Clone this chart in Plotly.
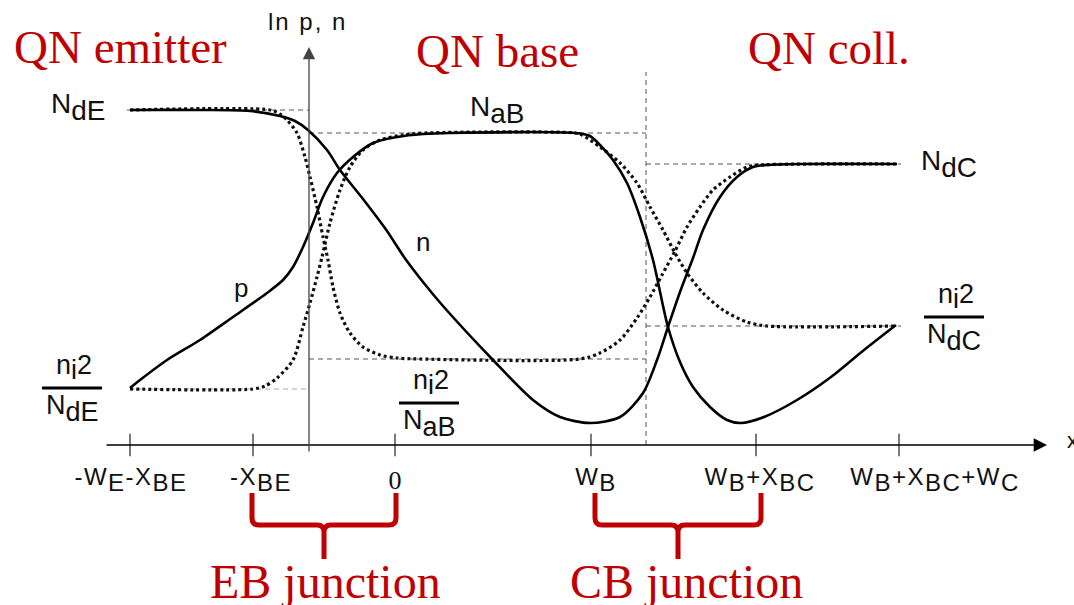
import re
import plotly.graph_objects as go

# ---------------- data (x: position, 0 at the "0" tick; y: ln p, n level) ----------------
tick_x = [-265, -142, 0, 196, 361, 504]
tick_labels = ["-W_{E}-X_{BE}", "-X_{BE}", "0", "W_{B}", "W_{B}+X_{BC}", "W_{B}+X_{BC}+W_{C}"]

y_axis_x = -86          # position of the ln p, n axis
bc_edge_x = 251         # dashed base/collector boundary

lvl_NdE = 335
lvl_NaB = 312
lvl_NdC = 281
lvl_ni2_NdC = 119
lvl_ni2_NaB = 86
lvl_ni2_NdE = 56

# electrons, forward active (solid)
n_x = [-265, -195, -145, -115, -100, -87, -68, -55, -32, -8, 9, 28, 48, 98, 138, 165, 195,
       225, 248, 262, 273, 285, 298, 308, 325, 342, 358, 372, 405, 502]
n_y = [335, 335, 334, 329, 324, 315, 295, 275, 246, 214, 188, 163, 139, 85, 45, 28, 22,
       28, 52, 85, 118, 153, 187, 215, 248, 268, 278, 280, 281, 281]

# holes, forward active (solid)
p_x = [-265, -255, -228, -195, -162, -128, -112, -102, -92, -82, -72, -58, -42, -22, 2, 28, 55,
       180, 195, 205, 218, 232, 245, 258, 273, 285, 298, 315, 332, 346, 369, 402, 436, 469, 501]
p_y = [57, 65, 85, 105, 128, 152, 165, 178, 198, 222, 248, 272, 288, 302, 308, 311, 312,
       312, 309, 300, 285, 262, 228, 185, 118, 83, 58, 38, 25, 22, 28, 45, 68, 95, 120]

# holes, equilibrium (dotted)
p0_x = [-265, -142, -130, -118, -102, -92, -85, -78, -73, -65, -55, -45, -32, -15, 8, 30,
        180, 187, 205, 225, 242, 255, 268, 280, 292, 308, 328, 352, 372, 502]
p0_y = [56, 56, 59, 67, 85, 118, 142, 168, 188, 222, 255, 278, 295, 305, 310, 312,
        312, 310, 298, 282, 262, 238, 215, 192, 172, 152, 135, 123, 119, 119]

# electrons, equilibrium (dotted)
n0_x = [-265, -125, -115, -108, -98, -90, -85, -78, -72, -67, -62, -55, -45, -32, -15, 2, 25,
        185, 205, 225, 242, 255, 267, 280, 292, 305, 318, 335, 352, 365, 502]
n0_y = [335, 335, 331, 325, 312, 288, 268, 238, 208, 185, 158, 132, 112, 98, 90, 87, 86,
        86, 92, 105, 127, 148, 170, 194, 218, 238, 255, 268, 278, 280, 281]

# ---------------- styling ----------------
SANS = "Liberation Sans, Arial, sans-serif"
SERIF = "Liberation Serif, Times New Roman, serif"
RED = "#C00000"
INK = "#111111"


def fmt(s, shift=6):
    return re.sub(r"_\{(.*?)\}", lambda m: f"<span style='baseline-shift:-{shift}px'>{m.group(1)}</span>", s)


fig = go.Figure()

# reference levels (dashed)
x_lo, x_hi = tick_x[0], tick_x[-1] + 2
dk_x = [x_lo - 3, y_axis_x, None, y_axis_x, bc_edge_x, None, bc_edge_x, x_hi, None,
        y_axis_x, bc_edge_x, None, bc_edge_x, x_hi, None, bc_edge_x, bc_edge_x]
dk_y = [lvl_NdE, lvl_NdE, None, lvl_NaB, lvl_NaB, None, lvl_NdC, lvl_NdC, None,
        lvl_ni2_NaB, lvl_ni2_NaB, None, lvl_ni2_NdC, lvl_ni2_NdC, None, 0, 373]
fig.add_trace(go.Scatter(x=dk_x, y=dk_y, mode="lines", hoverinfo="skip",
                         line=dict(color="#555555", width=1, dash="5px,4px")))
fig.add_trace(go.Scatter(x=[x_lo, y_axis_x], y=[lvl_ni2_NdE, lvl_ni2_NdE], mode="lines", hoverinfo="skip",
                         line=dict(color="#aaaaaa", width=1, dash="5px,4px")))

# equilibrium (dotted)
for xs, ys in [(p0_x, p0_y), (n0_x, n0_y)]:
    fig.add_trace(go.Scatter(x=xs, y=ys, mode="lines", hoverinfo="skip",
                             line=dict(color="#111111", width=3.2, dash="3px,3px", shape="spline", smoothing=0.8)))

# forward active (solid)
for xs, ys in [(p_x, p_y), (n_x, n_y)]:
    fig.add_trace(go.Scatter(x=xs, y=ys, mode="lines", hoverinfo="skip",
                             line=dict(color="#000000", width=2.6, shape="spline", smoothing=0.8)))

# x-axis tick marks
fig.add_trace(go.Scatter(x=tick_x, y=[0] * len(tick_x), mode="markers", hoverinfo="skip",
                         marker=dict(symbol="line-ns", size=16, line=dict(color="#333333", width=1.3))))

# tick labels (as a text trace so the braces can sit on top of them)
label_dx = [1, 8, 0, 5, 4, 36]
label_dy = [-34, -34, -37, -34, -34, -34]
fig.add_trace(go.Scatter(
    x=[t + d for t, d in zip(tick_x, label_dx)], y=label_dy, mode="text", hoverinfo="skip",
    text=[(f"<span style='letter-spacing:1.5px'>{fmt(t)}</span>" if t != "0" else t) for t in tick_labels],
    textposition="middle center",
    textfont=dict(family=[SANS, SANS, SERIF, SANS, SANS, SANS], size=[24, 24, 26, 24, 24, 24], color=INK)))

shapes = []


def brace(x0, x1, y_top=-48, y_bar=-80, y_tip=-114, r=7):
    xm = (x0 + x1) / 2
    return (f"M{x0},{y_top} L{x0},{y_bar + r} Q{x0},{y_bar} {x0 + r},{y_bar} L{xm - r},{y_bar} "
            f"Q{xm},{y_bar} {xm},{y_bar - r} L{xm},{y_tip} M{xm},{y_bar - r} Q{xm},{y_bar} {xm + r},{y_bar} "
            f"L{x1 - r},{y_bar} Q{x1},{y_bar} {x1},{y_bar + r} L{x1},{y_top}")


shapes.append(dict(type="path", xref="x", yref="y", layer="above",
                   path=brace(tick_x[1] - 1, tick_x[2] + 1), line=dict(color=RED, width=5)))
shapes.append(dict(type="path", xref="x", yref="y", layer="above",
                   path=brace(tick_x[3] + 4, tick_x[4] + 5), line=dict(color=RED, width=5)))

# fraction bars
frac_pos = [(-323, 57), (34, 42), (559, 128)]
for fx, fy in frac_pos:
    shapes.append(dict(type="line", xref="x", yref="y", x0=fx - 30, x1=fx + 30, y0=fy, y1=fy,
                       line=dict(color="#000000", width=3)))

annotations = []
# axes with arrows
annotations.append(dict(x=652, y=0, ax=tick_x[0] - 25, ay=0, xref="x", yref="y", axref="x", ayref="y",
                        text="", showarrow=True, arrowhead=2, arrowsize=1.9, arrowwidth=1.4,
                        arrowcolor="#000000", standoff=0))
annotations.append(dict(x=y_axis_x, y=398, ax=y_axis_x, ay=-8, xref="x", yref="y", axref="x", ayref="y",
                        text="", showarrow=True, arrowhead=2, arrowsize=1.9, arrowwidth=1.3,
                        arrowcolor="#444444", standoff=0))


def txt(x, y, s, size, family=SANS, color=INK, xanchor="center"):
    annotations.append(dict(x=x, y=y, xref="x", yref="y", text=s, showarrow=False,
                            font=dict(family=family, size=size, color=color),
                            xanchor=xanchor, yanchor="middle"))


txt(-88, 424, "<span style='letter-spacing:2px'>ln p, n</span>", 24)
txt(670, 5, "x", 22, xanchor="left")

# region titles
txt(-275, 398, "QN emitter", 47, SERIF, RED)
txt(102, 394, "QN base", 47, SERIF, RED)
txt(434, 397, "QN coll.", 47, SERIF, RED)
txt(-70, -136, "EB junction", 48, SERIF, RED)
txt(291, -136, "CB junction", 48, SERIF, RED)

# level labels
txt(-317, 338, fmt("N_{dE}", 7), 28)
txt(102, 335, fmt("N_{aB}", 7), 28)
txt(554, 281, fmt("N_{dC}", 7), 28)
txt(-154, 157, "p", 26)
txt(28, 203, "n", 26)

# fractions
dens = ["N_{dE}", "N_{aB}", "N_{dC}"]
for (fx, fy), d in zip(frac_pos, dens):
    txt(fx + 2, fy + 21, fmt("n_{i}2", 5), 27)
    txt(fx, fy - 20, fmt(d, 7), 27)

fig.update_layout(
    width=1074, height=605, margin=dict(l=0, r=0, t=0, b=0),
    paper_bgcolor="white", plot_bgcolor="white", showlegend=False,
    xaxis=dict(range=[-395, 679], visible=False, fixedrange=True),
    yaxis=dict(range=[-160, 445], visible=False, fixedrange=True),
    shapes=shapes, annotations=annotations,
)

fig.write_html("out.html")
